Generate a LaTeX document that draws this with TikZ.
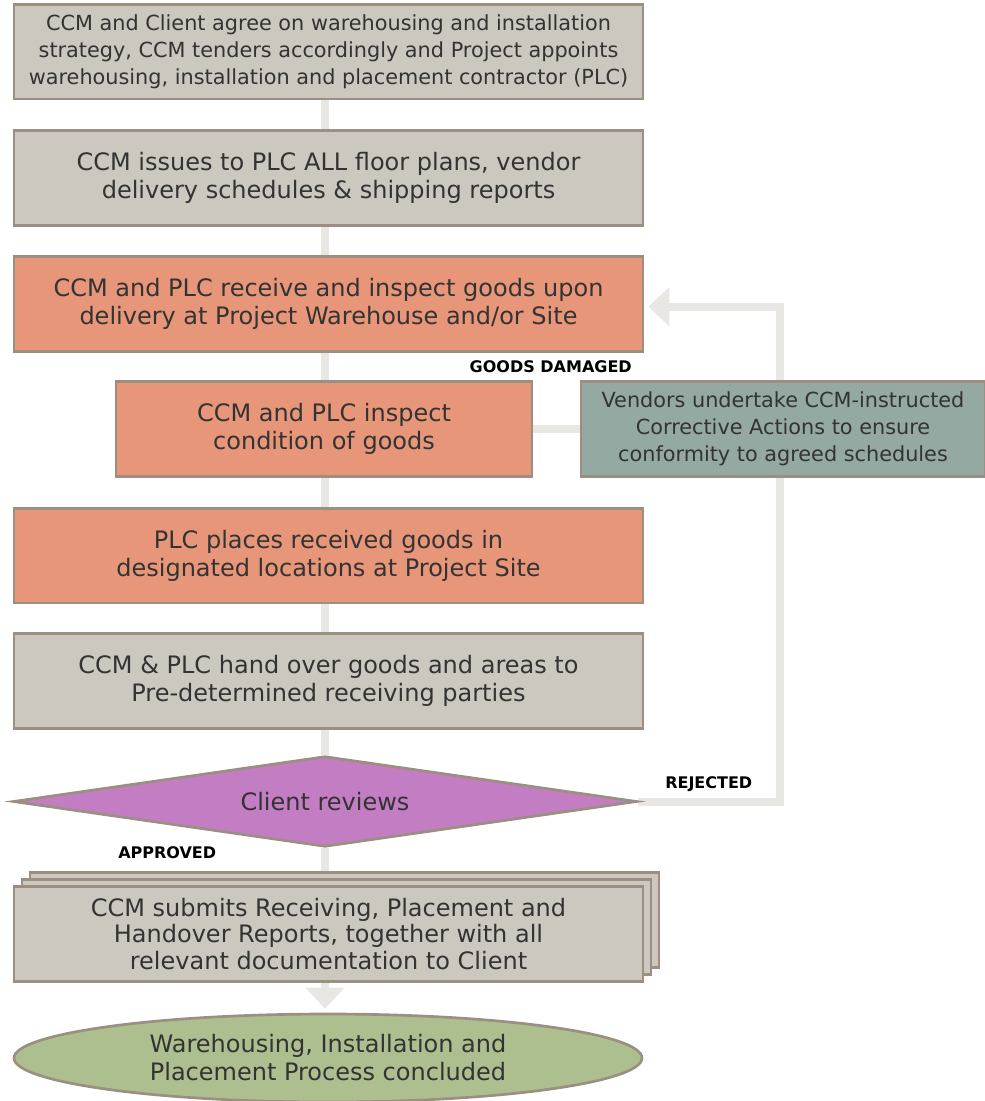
\documentclass[tikz,border=0pt]{standalone}
\usepackage{fontspec}
\setmainfont{DejaVu Sans}
\usetikzlibrary{shapes.geometric,arrows.meta}
\pgfdeclarelayer{background}
\pgfsetlayers{background,main}
\definecolor{boxgray}{HTML}{CCC7BF}
\definecolor{edgecol}{HTML}{9A8F80}
\definecolor{salmon}{HTML}{E79679}
\definecolor{tealbox}{HTML}{94A9A1}
\definecolor{purp}{HTML}{C27DC3}
\definecolor{greenell}{HTML}{ADBF8E}
\definecolor{conncol}{HTML}{E9E7E3}
\definecolor{txt}{HTML}{333333}
\tikzset{
  base/.style={draw=edgecol, line width=2pt, text=txt, align=center, inner sep=0pt, font=\fontsize{18}{21}\selectfont},
  graybox/.style={base, rectangle, fill=boxgray, minimum height=71pt},
  salbox/.style={base, rectangle, fill=salmon, minimum height=71pt},
  conn/.style={draw=conncol, line width=6pt},
  tip/.style={-{Triangle[length=15.75pt,width=28.5pt]}},
  lab/.style={font=\fontsize{12}{14}\bfseries\selectfont, text=black, inner sep=0pt}
}
\begin{document}
\begin{tikzpicture}[x=0.75pt,y=-0.75pt]
\useasboundingbox (0,0) rectangle (985,1101);
\node[graybox, minimum width=471.75pt, font=\fontsize{15.6}{20.2}\selectfont] (b1) at (328.5,51.5)
  {\raisebox{-3pt}{}CCM and Client agree on warehousing and installation\\strategy, CCM tenders accordingly and Project appoints\\warehousing, installation and placement contractor (PLC)};
\node[graybox, minimum width=471.75pt] (b2) at (328.5,178)
  {CCM issues to PLC ALL floor plans, vendor\\delivery schedules \& shipping reports};
\node[salbox, minimum width=471.75pt] (b3) at (328.5,304)
  {CCM and PLC receive and inspect goods upon\\delivery at Project Warehouse and/or Site};
\node[lab, anchor=east] (gd) at (632,367) {GOODS DAMAGED};
\node[salbox, minimum width=312pt] (b4) at (324,429)
  {CCM and PLC inspect\\condition of goods};
\node[base, rectangle, fill=tealbox, minimum width=303pt, minimum height=71pt, font=\fontsize{15.6}{20.2}\selectfont] (b5) at (783,429)
  {Vendors undertake CCM-instructed\\Corrective Actions to ensure\\conformity to agreed schedules};
\node[salbox, minimum width=471.75pt] (b6) at (328.5,555.5)
  {PLC places received goods in\\designated locations at Project Site};
\node[graybox, minimum width=471.75pt] (b7) at (328.5,681)
  {CCM \& PLC hand over goods and areas to\\Pre-determined receiving parties};
\node[base, diamond, fill=purp, aspect=6.8, minimum width=468pt, minimum height=68pt] (dia) at (325,801.5) {Client reviews};
\node[lab, anchor=west] (rej) at (665,784) {REJECTED};
\node[lab, anchor=west] (app) at (118,853) {APPROVED};
\node[graybox, minimum width=471.75pt] (s3) at (344.5,920) {};
\node[graybox, minimum width=471.75pt] (s2) at (336.5,927) {};
\node[graybox, minimum width=471.75pt, font=\fontsize{18}{20.2}\selectfont] (b8) at (328.5,934)
  {CCM submits Receiving, Placement and\\Handover Reports, together with all\\relevant documentation to Client};
\node[base, ellipse, fill=greenell, minimum width=471pt, minimum height=66pt] (end) at (328,1058)
  {Warehousing, Installation and\\Placement Process concluded};
\begin{pgfonlayer}{background}
\draw[conn] (b1.south -| dia.north) -- (b2.north -| dia.north);
\draw[conn] (b2.south -| dia.north) -- (b3.north -| dia.north);
\draw[conn] (b3.south -| dia.north) -- (b4.north -| dia.north);
\draw[conn] (b4.south -| dia.north) -- (b6.north -| dia.north);
\draw[conn] (b6.south -| dia.north) -- (b7.north -| dia.north);
\draw[conn] (b7.south -| dia.north) -- (dia.north);
\draw[conn] (dia.south) -- (dia.south |- s3.north);
\draw[conn] (b4.east) -- (b5.west);
\draw[conn, tip] (dia.east) -- (dia.east -| 780,0) |- ([xshift=3pt,yshift=-2pt]b3.east);
\draw[conn, tip, shorten >=3pt] (b8.south -| dia.south) -- (end.north -| dia.south);
\end{pgfonlayer}
\end{tikzpicture}
\end{document}
